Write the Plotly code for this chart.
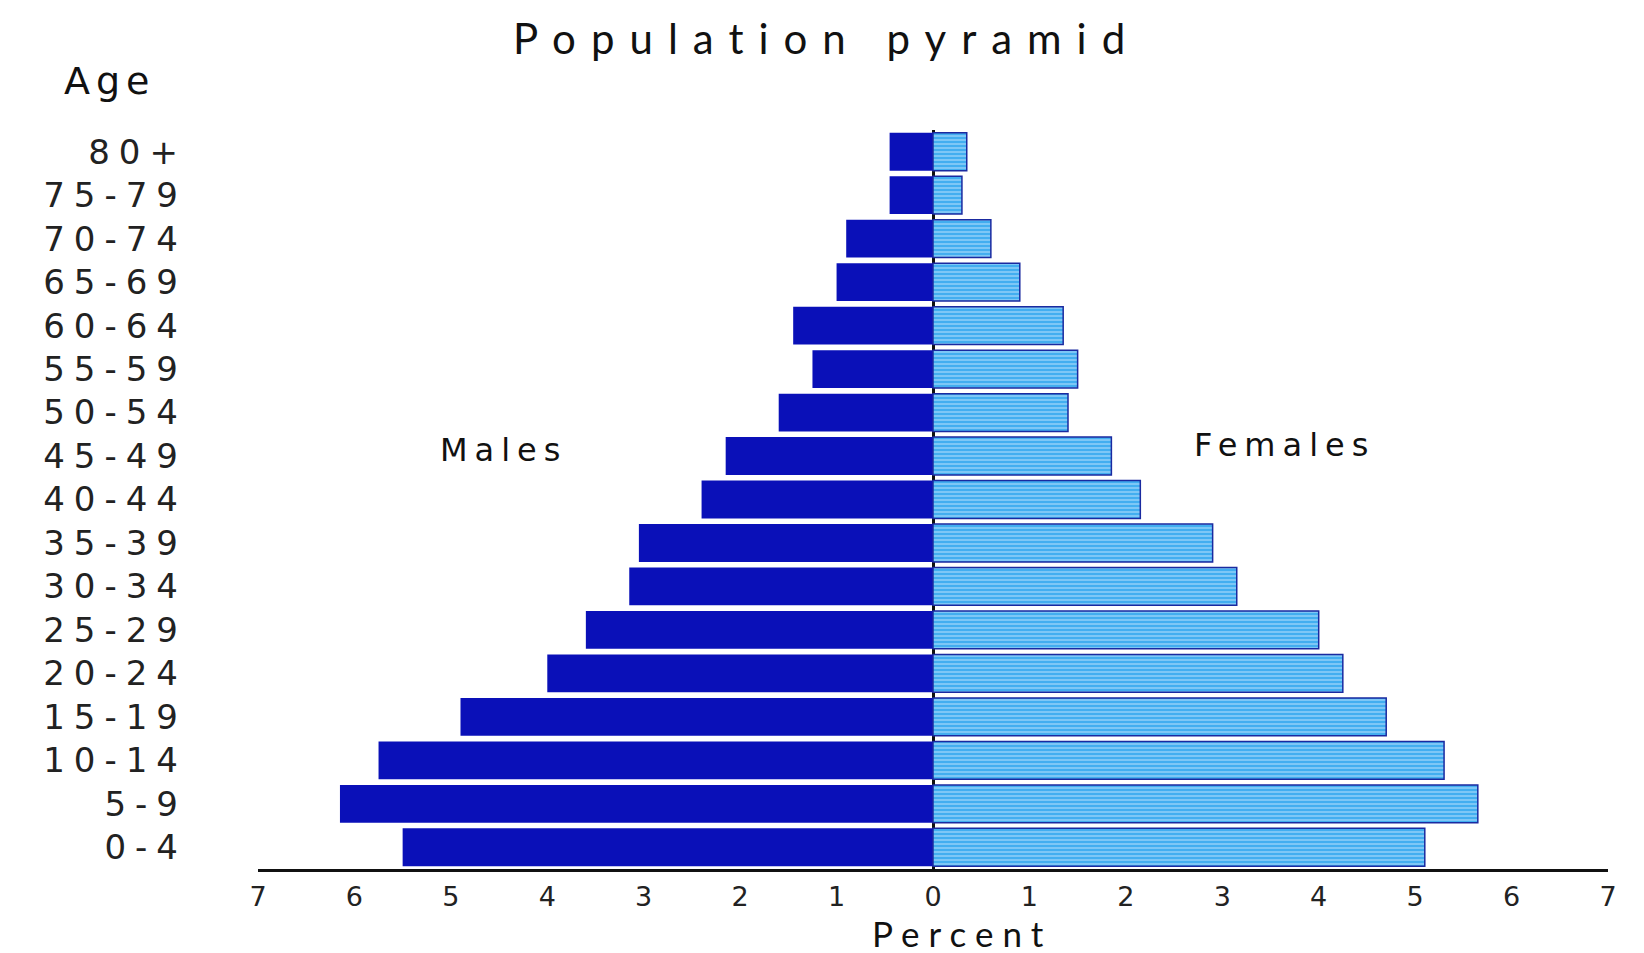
import plotly.graph_objects as go

age_groups = ["0-4", "5-9", "10-14", "15-19", "20-24", "25-29", "30-34", "35-39",
              "40-44", "45-49", "50-54", "55-59", "60-64", "65-69", "70-74", "75-79", "80+"]
males = [5.5, 6.15, 5.75, 4.9, 4.0, 3.6, 3.15, 3.05, 2.4, 2.15, 1.6, 1.25, 1.45, 1.0, 0.9, 0.45, 0.45]
females = [5.1, 5.65, 5.3, 4.7, 4.25, 4.0, 3.15, 2.9, 2.15, 1.85, 1.4, 1.5, 1.35, 0.9, 0.6, 0.3, 0.35]
x_ticks = [-7, -6, -5, -4, -3, -2, -1, 0, 1, 2, 3, 4, 5, 6, 7]
x_tick_text = ["7", "6", "5", "4", "3", "2", "1", "0", "1", "2", "3", "4", "5", "6", "7"]

MALE = "#0a10b8"
FEMALE = "#42aef0"
LS = lambda s, px: f'<span style="letter-spacing:{px}px">{s}</span>'

fig = go.Figure()
fig.add_trace(go.Bar(
    y=age_groups, x=[-v for v in males], orientation="h", name="Males",
    marker=dict(color=MALE, line=dict(width=0)),
))
fig.add_trace(go.Bar(
    y=age_groups, x=females, orientation="h", name="Females",
    marker=dict(color=FEMALE, line=dict(color="#1a2aa0", width=1.5),
                pattern=dict(shape="-", fgcolor="#d6efff", size=4, solidity=0.4)),
))

fig.update_layout(
    width=1644, height=953,
    paper_bgcolor="white", plot_bgcolor="white",
    barmode="overlay", bargap=0.13, showlegend=False,
    margin=dict(l=250, r=44, t=122, b=92),
    xaxis=dict(range=[-7, 7], tickvals=x_ticks, ticktext=x_tick_text,
               showgrid=False, zeroline=True, zerolinecolor="#111", zerolinewidth=3,
               showline=True, linecolor="#111", linewidth=2.5, ticks="",
               ticklabelstandoff=2,
               tickfont=dict(family="DejaVu Sans", size=27, color="#222")),
    yaxis=dict(categoryorder="array", categoryarray=age_groups,
               tickvals=age_groups, ticktext=[LS(a, 9) for a in age_groups],
               showgrid=False, showline=False, ticks="", ticklabelstandoff=70,
               tickfont=dict(family="DejaVu Sans", size=34, color="#222")),
    annotations=[
        dict(text=LS("Population pyramid", 15), xref="paper", yref="paper",
             x=(818 - 250) / 1350, y=1 + (122 - 30) / 739,
             xanchor="center", yanchor="middle", showarrow=False,
             font=dict(family="Lato, DejaVu Sans", size=42, color="#111")),
        dict(text=LS("Age", 6), xref="paper", yref="paper", x=(102 - 250) / 1350, y=1 + (122 - 73) / 739,
             xanchor="center", yanchor="middle", showarrow=False,
             font=dict(family="DejaVu Sans", size=38, color="#111")),
        dict(text=LS("Males", 7), xref="x", yref="paper", x=-4.45, y=(861 - 442) / 739,
             xanchor="center", yanchor="middle", showarrow=False,
             font=dict(family="DejaVu Sans", size=32, color="#111")),
        dict(text=LS("Females", 7), xref="x", yref="paper", x=3.65, y=(861 - 437) / 739,
             xanchor="center", yanchor="middle", showarrow=False,
             font=dict(family="DejaVu Sans", size=32, color="#111")),
        dict(text=LS("Percent", 9), xref="paper", yref="paper", x=(954 - 250) / 1350, y=-(925 - 861) / 739,
             xanchor="center", yanchor="middle", showarrow=False,
             font=dict(family="Lato, DejaVu Sans", size=35, color="#111")),
    ],
)

fig.write_html("out.html")
